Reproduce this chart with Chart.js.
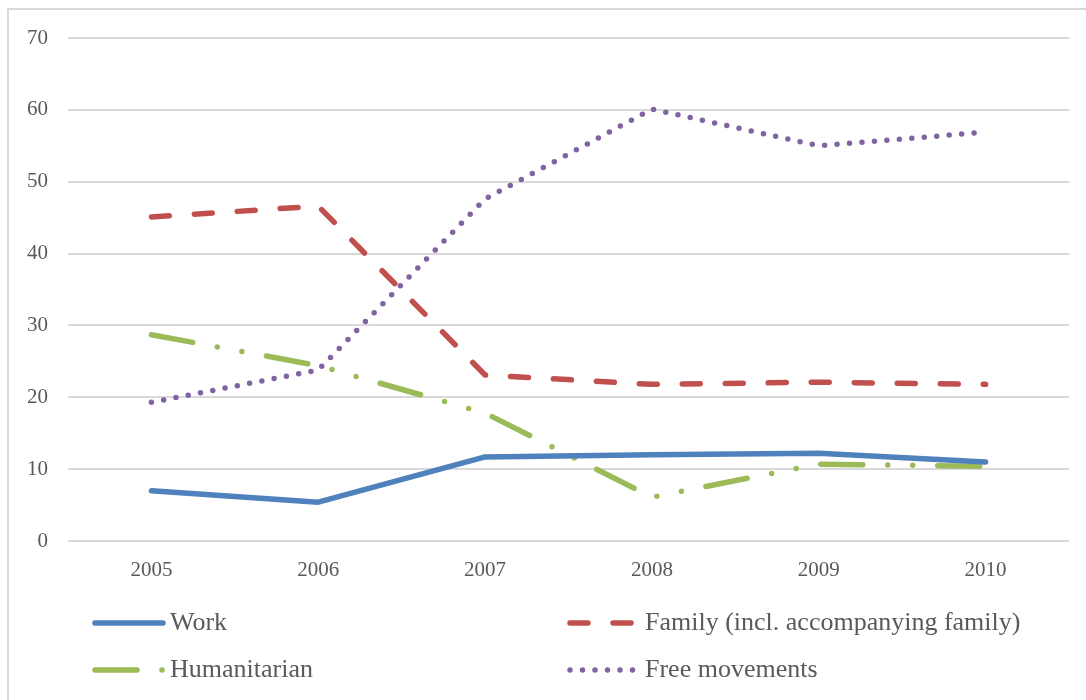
<!DOCTYPE html>
<html>
<head>
<meta charset="utf-8">
<script src="https://cdn.jsdelivr.net/npm/chart.js@4"></script>
<style>
  body { margin: 0; background: #fff; }
  #wrap { position: relative; width: 1086px; height: 700px; overflow: hidden; }
  #frame { position: absolute; left: 7px; top: 8px; width: 1200px; height: 800px; border: 2px solid #d9d9d9; }
  canvas { position: absolute; left: 0; top: 0; }
</style>
</head>
<body>
<div id="wrap">
  <div id="frame"></div>
  <canvas id="myChart" width="1086" height="700"></canvas>
</div>
<script>
const years = ["2005", "2006", "2007", "2008", "2009", "2010"];
const work = [7.0, 5.4, 11.7, 12.0, 12.2, 11.0];
const family = [45.1, 46.6, 23.1, 21.8, 22.1, 21.8];
const humanitarian = [28.7, 24.4, 17.8, 6.1, 10.7, 10.4];
const freeMovements = [19.3, 23.8, 47.6, 60.1, 55.0, 56.9];
const seriesNames = ["Work", "Family (incl. accompanying family)", "Humanitarian", "Free movements"];
const yTicks = [0, 10, 20, 30, 40, 50, 60, 70];

const textColor = "#595959";
const fontFamily = "'Liberation Serif', 'DejaVu Serif', serif";

function makeLine(label, data, color, dash) {
  return {
    label: label,
    data: data,
    borderColor: color,
    backgroundColor: color,
    borderWidth: 5.5,
    borderDash: dash,
    borderCapStyle: "round",
    borderJoinStyle: "round",
    pointRadius: 0,
    tension: 0,
    fill: false
  };
}

// legend drawn in two columns like the original
const legendPlugin = {
  id: "twoColLegend",
  afterDraw(chart) {
    const ctx = chart.ctx;
    const spots = [
      { x: 95, y: 623 },
      { x: 570, y: 623 },
      { x: 95, y: 670 },
      { x: 570, y: 670 }
    ];
    chart.data.datasets.forEach((ds, i) => {
      const s = spots[i];
      ctx.save();
      ctx.strokeStyle = ds.borderColor;
      ctx.lineWidth = ds.borderWidth;
      ctx.lineCap = "round";
      ctx.setLineDash(ds.borderDash || []);
      ctx.beginPath();
      ctx.moveTo(s.x, s.y);
      ctx.lineTo(s.x + 68, s.y);
      ctx.stroke();
      ctx.setLineDash([]);
      ctx.fillStyle = textColor;
      ctx.font = "26px " + fontFamily;
      ctx.textBaseline = "middle";
      ctx.fillText(ds.label, s.x + 75, s.y);
      ctx.restore();
    });
  }
};

new Chart(document.getElementById("myChart"), {
  type: "line",
  data: {
    labels: years,
    datasets: [
      makeLine(seriesNames[0], work, "#4F81BD", []),
      makeLine(seriesNames[1], family, "#C0504D", [18, 25]),
      makeLine(seriesNames[2], humanitarian, "#9BBB59", [42, 25, 0, 25, 0, 25]),
      makeLine(seriesNames[3], freeMovements, "#8064A2", [0, 12.5])
    ]
  },
  options: {
    responsive: false,
    animation: false,
    layout: { padding: { top: 38, right: 17, bottom: 109, left: 0 } },
    plugins: {
      legend: { display: false },
      tooltip: { enabled: false }
    },
    scales: {
      x: {
        offset: true,
        grid: { display: false, drawTicks: false },
        border: { display: false },
        ticks: { color: textColor, font: { family: fontFamily, size: 21 }, padding: 17 },
        afterFit(scale) { scale.height = 50; }
      },
      y: {
        min: 0,
        max: 70,
        afterBuildTicks(scale) { scale.ticks = yTicks.map(v => ({ value: v })); },
        grid: { color: "#d9d9d9", lineWidth: 2, drawTicks: false },
        border: { display: false },
        ticks: { color: textColor, font: { family: fontFamily, size: 21 }, padding: 20 },
        afterFit(scale) { scale.width = 68; }
      }
    }
  },
  plugins: [legendPlugin]
});
</script>
</body>
</html>
